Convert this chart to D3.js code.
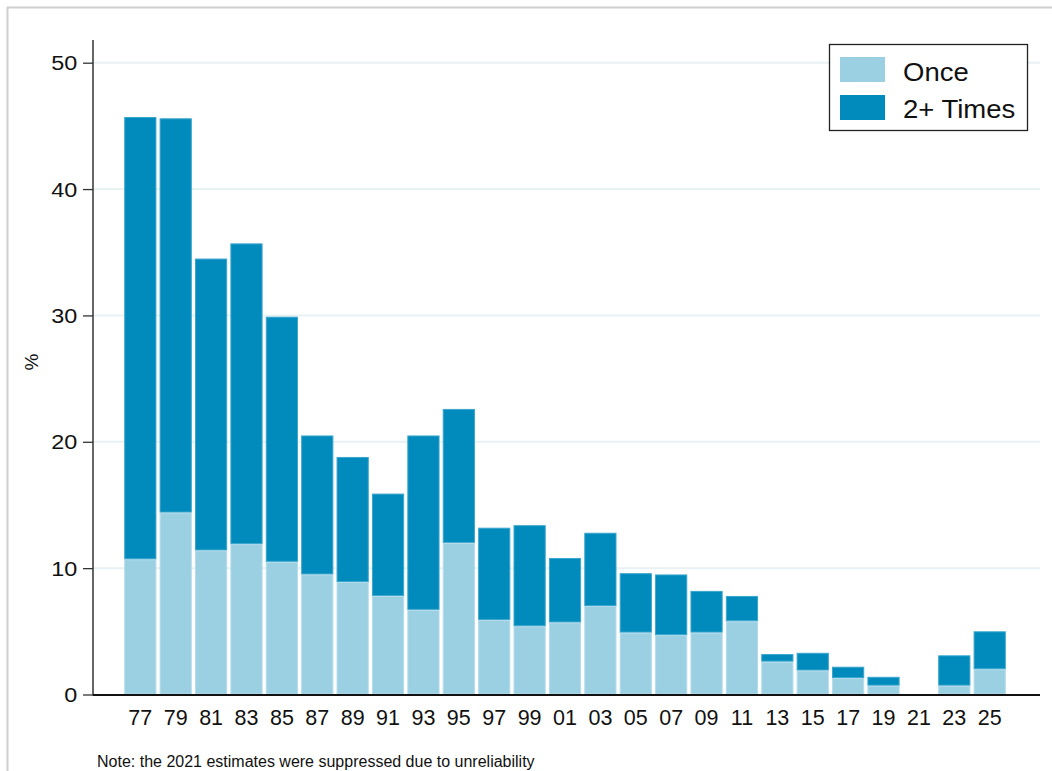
<!DOCTYPE html>
<html>
<head>
<meta charset="utf-8">
<script src="https://cdn.jsdelivr.net/npm/d3@7"></script>
<style>
  html, body { margin: 0; padding: 0; background: #fff; }
  svg { display: block; }
</style>
</head>
<body>
<svg id="chart" width="1052" height="771"></svg>
<script>
const years = ["77","79","81","83","85","87","89","91","93","95","97","99","01","03","05","07","09","11","13","15","17","19","21","23","25"];
const once = [10.7,14.4,11.4,11.9,10.5,9.5,8.9,7.8,6.7,12.0,5.9,5.4,5.7,7.0,4.9,4.7,4.9,5.8,2.6,1.9,1.3,0.7,null,0.7,2.0];
const total = [45.7,45.6,34.5,35.7,29.9,20.5,18.8,15.9,20.5,22.6,13.2,13.4,10.8,12.8,9.6,9.5,8.2,7.8,3.2,3.3,2.2,1.4,null,3.1,5.0];
const twoPlus = total.map((t, i) => t == null ? null : +(t - once[i]).toFixed(2));
const yTicks = [0,10,20,30,40,50];
const seriesNames = ["Once", "2+ Times"];
const colors = ["#9bd0e3", "#018abc"];
const strokeColors = ["#b5dceb", "#3aa6cc"];
const noteText = "Note: the 2021 estimates were suppressed due to unreliability";

const svg = d3.select("#chart");

// outer frame
svg.append("path").attr("d", "M7.5,771 L7.5,7.5 L1052,7.5")
  .attr("fill", "none").attr("stroke", "#cfcfcf").attr("stroke-width", 2);

const plotLeft = 93, plotRight = 1040, y0 = 694.5;
const x = d3.scaleBand().domain(years).range([123.5, 1006.5]).paddingInner(0.09).paddingOuter(0.02);
const y = d3.scaleLinear().domain([0, 50]).range([y0, 62.7]);

// gridlines
svg.append("g").selectAll("line").data(yTicks.filter(d => d > 0)).join("line")
  .attr("x1", plotLeft).attr("x2", plotRight)
  .attr("y1", d => y(d)).attr("y2", d => y(d))
  .attr("stroke", "#e8f1f3").attr("stroke-width", 2);

// bars
const stacks = [once, twoPlus];
const g = svg.append("g");
years.forEach((yr, i) => {
  if (once[i] == null) return;
  let base = 0;
  stacks.forEach((s, k) => {
    const v = s[i];
    g.append("rect")
      .attr("x", x(yr) + 0.5)
      .attr("width", x.bandwidth() - 1)
      .attr("y", y(base + v) + 0.5)
      .attr("height", Math.max(0, y(base) - y(base + v) - 1))
      .attr("fill", colors[k])
      .attr("stroke", strokeColors[k])
      .attr("stroke-width", 1);
    base += v;
  });
});

// y axis
const ySX = 1.2;
const yAxis = d3.axisLeft(y).tickValues(yTicks).tickSize(10).tickPadding(5);
const ya = svg.append("g").attr("transform", `translate(${plotLeft},0)`).call(yAxis);
ya.select(".domain").remove();
ya.selectAll(".tick line").attr("stroke", "#333").attr("stroke-width", 1.3);
ya.selectAll(".tick text").attr("font-family", "Liberation Sans, Arial, sans-serif")
  .attr("font-size", 19.5).attr("fill", "#111")
  .attr("transform", `scale(${ySX},1)`).attr("x", -15.7 / ySX).attr("dy", "0.36em");
svg.append("line").attr("x1", plotLeft).attr("x2", plotLeft).attr("y1", 40).attr("y2", y0 + 1)
  .attr("stroke", "#333").attr("stroke-width", 1.5);

// x axis
const xAxis = d3.axisBottom(x).tickSize(0).tickPadding(15.5);
const xa = svg.append("g").attr("transform", `translate(0,${y0})`).call(xAxis);
xa.select(".domain").remove();
xa.selectAll(".tick text").attr("font-family", "Liberation Sans, Arial, sans-serif")
  .attr("font-size", 21.5).attr("fill", "#111");
svg.append("line").attr("x1", plotLeft).attr("x2", plotRight).attr("y1", y0 + 0.5).attr("y2", y0 + 0.5)
  .attr("stroke", "#111").attr("stroke-width", 2);

// y label
svg.append("text").attr("transform", "translate(38,362) rotate(-90)")
  .attr("text-anchor", "middle").attr("font-family", "Liberation Sans, Arial, sans-serif")
  .attr("font-size", 19).attr("fill", "#111").text("%");

// legend
const lg = svg.append("g");
lg.append("rect").attr("x", 829.5).attr("y", 44.5).attr("width", 198).attr("height", 86)
  .attr("fill", "#fff").attr("stroke", "#222").attr("stroke-width", 1.3);
const lSX = 1.1;
seriesNames.forEach((n, k) => {
  lg.append("rect").attr("x", 840).attr("y", 57 + k * 38).attr("width", 45).attr("height", 25)
    .attr("fill", colors[k]);
  lg.append("text").attr("transform", `translate(903,${72 + k * 37}) scale(${lSX},1)`)
    .attr("dy", "0.36em")
    .attr("font-family", "Liberation Sans, Arial, sans-serif").attr("font-size", 25)
    .attr("fill", "#111").text(n);
});

// note
svg.append("text").attr("x", 97).attr("y", 767)
  .attr("font-family", "Liberation Sans Narrow, Arial Narrow, sans-serif")
  .attr("font-size", 16).attr("fill", "#111").text(noteText);
</script>
</body>
</html>
